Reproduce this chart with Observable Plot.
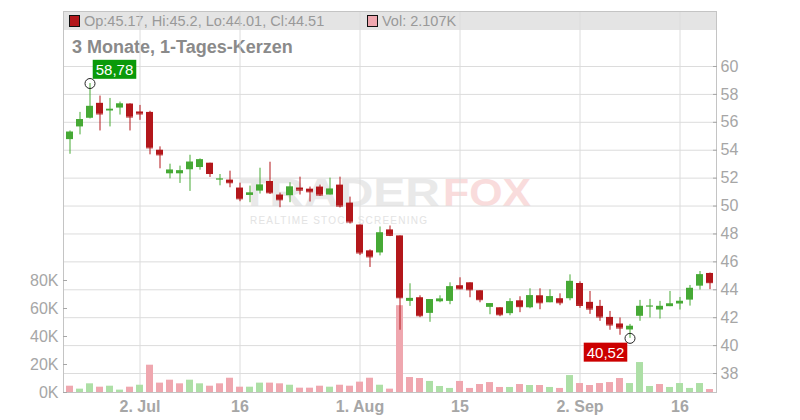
<!DOCTYPE html>
<html><head><meta charset="utf-8">
<script src="https://cdn.jsdelivr.net/npm/d3@7"></script>
<script src="https://cdn.jsdelivr.net/npm/@observablehq/plot@0.6"></script>
<style>
html,body{margin:0;padding:0;background:#fff;}
#chart{position:relative;width:800px;height:420px;}
#chart > svg{position:absolute;left:0;top:0;}
</style></head><body><div id="chart"></div>
<script>
// ---------------- data ----------------
const dates = [
 "2024-06-21","2024-06-24","2024-06-25","2024-06-26","2024-06-27","2024-06-28",
 "2024-07-01","2024-07-02","2024-07-03","2024-07-04","2024-07-05",
 "2024-07-08","2024-07-09","2024-07-10","2024-07-11","2024-07-12",
 "2024-07-15","2024-07-16","2024-07-17","2024-07-18","2024-07-19",
 "2024-07-22","2024-07-23","2024-07-24","2024-07-25","2024-07-26",
 "2024-07-29","2024-07-30","2024-07-31","2024-08-01","2024-08-02",
 "2024-08-05","2024-08-06","2024-08-07","2024-08-08","2024-08-09",
 "2024-08-12","2024-08-13","2024-08-14","2024-08-15","2024-08-16",
 "2024-08-19","2024-08-20","2024-08-21","2024-08-22","2024-08-23",
 "2024-08-26","2024-08-27","2024-08-28","2024-08-29","2024-08-30",
 "2024-09-02","2024-09-03","2024-09-04","2024-09-05","2024-09-06",
 "2024-09-09","2024-09-10","2024-09-11","2024-09-12","2024-09-13",
 "2024-09-16","2024-09-17","2024-09-18","2024-09-19"];
const open = [
 54.76,55.67,56.29,57.36,56.81,57.02,
 57.31,56.74,56.71,54.00,52.31,
 52.31,52.60,52.76,53.07,51.90,
 51.86,51.29,50.76,51.07,51.76,
 50.79,50.74,51.29,51.21,51.36,
 50.79,51.50,50.21,48.64,46.79,
 46.64,48.29,47.86,43.17,43.43,
 42.31,43.14,43.17,44.29,44.50,
 43.93,42.74,42.71,42.29,43.21,
 42.71,43.57,43.07,43.36,43.36,
 44.45,43.10,42.81,42.02,41.55,
 41.12,42.10,42.81,42.55,42.79,
 42.98,43.26,44.26,45.17];
const high = [
 55.38,56.71,58.78,57.88,57.71,57.45,
 57.33,57.21,56.79,54.24,53.00,
 52.86,53.64,53.38,53.07,52.26,
 52.50,51.64,51.43,52.71,53.14,
 50.93,51.67,52.07,51.36,51.50,
 52.00,52.07,50.64,48.64,46.86,
 48.50,48.57,47.86,44.43,43.57,
 43.29,43.57,44.50,44.86,44.50,
 43.93,43.00,42.71,43.36,43.50,
 44.07,44.07,44.00,43.71,45.07,
 44.57,43.88,43.24,42.45,41.98,
 41.52,43.24,43.31,43.17,43.88,
 43.45,44.31,45.31,45.20];
const low = [
 53.71,55.10,56.24,55.38,55.67,56.52,
 55.38,56.14,53.67,52.67,51.95,
 51.62,51.05,52.57,52.05,51.45,
 51.31,50.31,50.24,50.86,50.83,
 49.88,50.24,50.79,50.29,50.69,
 50.79,49.86,48.71,46.45,45.60,
 46.43,47.81,41.10,42.81,42.00,
 41.67,43.07,42.93,44.00,43.43,
 43.07,42.21,42.07,42.14,42.36,
 42.64,42.57,43.07,42.86,43.21,
 42.67,42.24,41.74,41.10,40.74,
 40.52,41.74,41.98,41.90,42.79,
 42.55,42.83,43.98,44.01];
const close = [
 55.29,56.19,57.14,56.60,56.93,57.31,
 56.38,56.60,54.17,53.67,52.57,
 52.52,53.14,53.31,52.33,51.93,
 51.67,50.52,50.93,51.50,50.95,
 50.45,51.36,51.14,51.02,50.79,
 51.21,50.00,48.86,46.64,46.36,
 48.07,47.90,43.43,43.38,42.14,
 43.29,43.33,44.21,44.07,44.00,
 43.29,43.00,42.21,43.14,42.79,
 43.57,43.07,43.50,43.07,44.60,
 42.88,42.62,42.05,41.48,41.26,
 41.38,42.81,42.83,42.81,42.98,
 43.17,44.10,45.07,44.51];
const volume = [
 4500,2400,6200,3800,4500,1700,
 3800,5200,19500,6700,8800,
 6200,8800,6200,4500,6200,
 10200,3800,3800,6700,6700,
 6200,5200,3100,3100,4500,
 3800,5200,4500,7400,10200,
 5200,2400,62000,10700,10000,
 7900,4300,2900,7900,2900,
 5700,7100,3600,3600,5700,
 5000,5000,3600,2900,12100,
 6400,5000,6400,7100,10000,
 6400,21400,4300,5700,3600,
 6400,2900,6400,2107];
const prevClose = 55.6; // close of the session before the window
const priceTicks = [38,40,42,44,46,48,50,52,54,56,58,60];
const volumeTicks = [0,20000,40000,60000,80000];
const dateTicks = ["2024-07-02","2024-07-16","2024-08-01","2024-08-15","2024-09-02","2024-09-16"];
const dateTickLabels = ["2. Jul","16","1. Aug","15","2. Sep","16"];
const titleText = "3 Monate, 1-Tages-Kerzen";

// ---------------- setup ----------------
const W = 800, H = 420, mL = 63, mR = 84, mT = 11, mB = 28;
const priceDomain = [36.64, 63.94];
const volDomain = [0, 272143];
const FONT = '"Liberation Sans", Arial, Helvetica, sans-serif';
const GREEN = "#46a935", RED = "#b3171b";
const VGREEN = "#addfa6", VPINK = "#efa7af";
const AXIS = "#a6a6a6";

const rows = dates.map((date, i) => ({
  date, o: open[i], h: high[i], l: low[i], c: close[i], v: volume[i],
  up: close[i] >= open[i],
  volUp: close[i] >= (i > 0 ? close[i - 1] : prevClose)
}));
const tickLabel = new Map(dateTicks.map((d, i) => [d, dateTickLabels[i]]));
const xOpts = {type: "band", domain: dates, paddingInner: 0.3, paddingOuter: 0.15, axis: null};
const base = {width: W, height: H, marginLeft: mL, marginRight: mR, marginTop: mT, marginBottom: mB,
  style: {background: "transparent", fontFamily: FONT, fontSize: "16px", overflow: "visible"}};

const chart = document.getElementById("chart");

// ---------------- decoration layer (band, legend, title, watermark) ----------------
const last = rows[rows.length - 1];
const deco = d3.create("svg").attr("width", W).attr("height", H).style("font-family", FONT);
deco.append("rect").attr("x", mL).attr("y", mT).attr("width", W - mL - mR).attr("height", 19).attr("fill", "#e4e4e4");
deco.append("rect").attr("x", 69.5).attr("y", 15.5).attr("width", 10).attr("height", 11)
  .attr("fill", last.up ? GREEN : RED).attr("stroke", "#111");
deco.append("text").attr("x", 84).attr("y", 26).attr("fill", "#999").attr("font-size", 14.5)
  .text(`Op:${last.o}, Hi:${last.h}, Lo:${last.l}, Cl:${last.c}`);
deco.append("rect").attr("x", 367.5).attr("y", 15.5).attr("width", 10).attr("height", 11)
  .attr("fill", last.volUp ? VGREEN : VPINK).attr("stroke", "#111");
deco.append("text").attr("x", 382).attr("y", 26).attr("fill", "#999").attr("font-size", 14.5)
  .text(`Vol: ${(last.v / 1000).toFixed(3)}K`);
deco.append("text").attr("x", 72).attr("y", 53).attr("fill", "#8a8a8a").attr("font-size", 18)
  .attr("font-weight", "bold").text(titleText);
// faint brand watermark
deco.append("text").attr("x", 240).attr("y", 206).attr("font-size", 39).attr("font-weight", "bold")
  .attr("fill", "#e9e9e9").attr("textLength", 200).attr("lengthAdjust", "spacingAndGlyphs").text("TRADER");
deco.append("text").attr("x", 443).attr("y", 206).attr("font-size", 39).attr("font-weight", "bold")
  .attr("fill", "#f9dcdc").attr("textLength", 88).attr("lengthAdjust", "spacingAndGlyphs").text("FOX");
deco.append("text").attr("x", 250).attr("y", 224).attr("font-size", 10).attr("fill", "#e3e3e3")
  .attr("textLength", 177).attr("lengthAdjust", "spacing").text("REALTIME STOCK SCREENING");
chart.appendChild(deco.node());

// ---------------- grid layer ----------------
const gridPlot = Plot.plot({...base,
  x: xOpts, y: {domain: priceDomain, axis: null},
  marks: [
    Plot.gridY(priceTicks, {stroke: "#dcdcdc", strokeOpacity: 1}),
    Plot.gridX(dateTicks, {stroke: "#dcdcdc", strokeOpacity: 1}),
    Plot.frame({stroke: "#c4c4c4"})
  ]});
chart.appendChild(gridPlot);

// ---------------- volume layer ----------------
const volPlot = Plot.plot({...base,
  x: xOpts, y: {domain: volDomain, axis: null},
  marks: [
    Plot.barY(rows, {x: "date", y: "v", fill: d => d.volUp ? VGREEN : VPINK}),
    Plot.axisY(volumeTicks, {anchor: "left", label: null, tickFormat: d => d / 1000 + "K", tickSize: -4, tickPadding: 9, color: AXIS, fontSize: 16})
  ]});
chart.appendChild(volPlot);

// ---------------- price layer ----------------
const maxRow = rows.reduce((a, b) => b.h > a.h ? b : a);
const minRow = rows.reduce((a, b) => b.l < a.l ? b : a);
const fmt = v => v.toFixed(2).replace(".", ",");
const annMax = [{date: maxRow.date, y: maxRow.h, label: fmt(maxRow.h)}];
const annMin = [{date: minRow.date, y: minRow.l, label: fmt(minRow.l)}];
const cColor = d => d.up ? GREEN : RED;

const pricePlot = Plot.plot({...base,
  x: xOpts, y: {domain: priceDomain, axis: null},
  marks: [
    Plot.ruleX(rows, {x: "date", y1: "l", y2: "h", stroke: cColor, strokeWidth: 1}),
    Plot.barY(rows, {x: "date", y1: d => Math.min(d.o, d.c), y2: d => Math.max(d.o, d.c), fill: cColor}),
    Plot.tickY(rows, {x: "date", y: "c", stroke: cColor, strokeWidth: 1}),
    Plot.axisY(priceTicks, {anchor: "right", label: null, tickSize: -4, tickPadding: 8, color: AXIS, fontSize: 16}),
    Plot.axisX(dateTicks, {label: null, tickFormat: d => tickLabel.get(d), tickSize: 0, tickPadding: 8, color: AXIS, fontSize: 16, fontWeight: "bold"}),
    Plot.dot([...annMax, ...annMin], {x: "date", y: "y", r: 5, stroke: "#222", fill: "none", strokeWidth: 1}),
    Plot.text(annMax, {x: "date", y: "y", text: "label", dx: 24.5, dy: -13.5, fill: "white", fontSize: 15}),
    Plot.text(annMin, {x: "date", y: "y", text: "label", dx: -24.5, dy: 14.5, fill: "white", fontSize: 15})
  ]});
chart.appendChild(pricePlot);

// label boxes behind the annotation texts
const boxColors = ["#0a9a0a", "#cc0000"];
pricePlot.querySelectorAll('g[aria-label="text"]').forEach((g, gi) => {
  g.querySelectorAll("text").forEach(t => {
    const b = t.getBBox();
    const r = document.createElementNS("http://www.w3.org/2000/svg", "rect");
    r.setAttribute("x", b.x - 3);
    r.setAttribute("y", b.y - 1);
    r.setAttribute("width", b.width + 6);
    r.setAttribute("height", b.height + 2);
    r.setAttribute("fill", boxColors[gi]);
    if (t.getAttribute("transform")) r.setAttribute("transform", t.getAttribute("transform"));
    g.insertBefore(r, t);
  });
});
</script></body></html>
